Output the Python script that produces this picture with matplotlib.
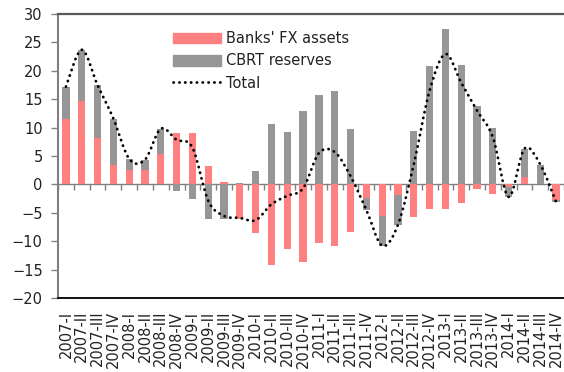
import numpy as np
import matplotlib
matplotlib.use("Agg")
import matplotlib.pyplot as plt
from matplotlib.path import Path
from matplotlib.patches import PathPatch, Patch
from matplotlib.lines import Line2D

quarters = ["I", "II", "III", "IV"]
years = list(range(2007, 2015))
labels = [f"{y}-{q}" for y in years for q in quarters]

# contributions, percentage points
banks_fx = [11.5, 14.6, 8.1, 3.35, 2.6, 2.6, 5.4, 9.1,
            9.1, 3.2, 0.5, -6.1, -8.6, -14.2, -11.3, -13.6,
            -10.3, -10.8, -8.35, -2.35, -5.5, -1.8, -5.8, -4.4,
            -4.35, -3.2, -0.8, -1.7, -0.4, 1.3, 0.1, -2.7]
cbrt_res = [5.7, 9.1, 9.4, 8.25, 1.9, 1.75, 4.4, -1.25,
            -2.6, -6.05, -6.05, 0.2, 2.3, 10.7, 9.3, 12.9,
            15.8, 16.5, 9.8, -2.15, -5.3, -5.3, 9.35, 20.9,
            27.3, 21.1, 13.8, 10.0, -1.8, 5.0, 3.4, -0.4]

PINK = "#ff8080"
GRAY = "#969696"

banks = np.array(banks_fx)
cbrt = np.array(cbrt_res)
total = banks + cbrt
x = np.arange(len(labels))


def smooth_path(xs, ys):
    """Catmull-Rom style bezier through every point (spreadsheet 'smoothed line')."""
    pts = np.column_stack([xs, ys])
    verts = [pts[0]]
    codes = [Path.MOVETO]
    n = len(pts)
    for i in range(n - 1):
        p0 = pts[i - 1] if i > 0 else pts[i]
        p1 = pts[i]
        p2 = pts[i + 1]
        p3 = pts[i + 2] if i + 2 < n else pts[i + 1]
        c1 = p1 + (p2 - p0) / 6.0
        c2 = p2 - (p3 - p1) / 6.0
        verts += [c1, c2, p2]
        codes += [Path.CURVE4] * 3
    return Path(verts, codes)


plt.rcParams["font.family"] = "DejaVu Sans"
fig = plt.figure(figsize=(5.64, 3.72), dpi=100)
ax = fig.add_axes([58 / 564, 1 - 298 / 372, 1 - 58 / 564, 284 / 372])

# stacked bars: same-sign values stack on each other, opposite signs start at 0
width = 0.46
ax.bar(x, banks, width, color=PINK, zorder=2)
cbrt_bottom = np.where(np.sign(cbrt) == np.sign(banks), banks, 0.0)
ax.bar(x, cbrt, width, bottom=cbrt_bottom, color=GRAY, zorder=2)

dot_style = dict(color="black", linewidth=2.0, linestyle=(0, (0.1, 2.0)),
                 dash_capstyle="round")
patch = PathPatch(smooth_path(x, total), facecolor="none", edgecolor="black",
                  linewidth=2.0, linestyle=(0, (0.1, 2.0)), capstyle="round",
                  zorder=3)
ax.add_patch(patch)

ax.set_xlim(-0.5, len(labels) - 0.5)
ax.set_ylim(-20, 30)
ax.set_yticks(np.arange(-20, 31, 5))
ax.tick_params(axis="y", length=5, width=1, color="#808080", pad=6,
               labelsize=10.5, labelcolor="#222222")
ax.set_xticks(x)
ax.set_xticklabels(labels, rotation=90, fontsize=10.5, color="#222222")
ax.tick_params(axis="x", length=0, pad=9)

for s in ["right"]:
    ax.spines[s].set_visible(False)
ax.spines["left"].set_color("#808080")
ax.spines["left"].set_linewidth(1.5)
ax.spines["top"].set_color("#595959")
ax.spines["top"].set_linewidth(1.6)
ax.spines["bottom"].set_color("#111111")
ax.spines["bottom"].set_linewidth(1.4)

# zero line with category separators
zero_ax = ax.secondary_xaxis(20 / 50)
zero_ax.set_xticks(np.arange(-0.5, len(labels), 1.0))
zero_ax.set_xticklabels([])
zero_ax.tick_params(axis="x", direction="out", length=4, width=1, color="#808080")
zero_ax.spines["bottom"].set_color("#808080")
zero_ax.spines["bottom"].set_linewidth(1.0)
for s in ["top", "left", "right"]:
    zero_ax.spines[s].set_visible(False)
zero_ax.spines["bottom"].set_zorder(1)

handles = [Patch(color=PINK), Patch(color=GRAY), Line2D([], [], **dot_style)]
fig.legend(handles, ["Banks' FX assets", "CBRT reserves", "Total"],
           loc="upper left", bbox_to_anchor=(173 / 564, 1 - 31 / 372),
           frameon=False, fontsize=10.5, handlelength=3.3, handleheight=0.75,
           handletextpad=0.3, labelspacing=0.5, borderpad=0, borderaxespad=0,
           labelcolor="#222222")

fig.savefig("out.png", dpi=100)
